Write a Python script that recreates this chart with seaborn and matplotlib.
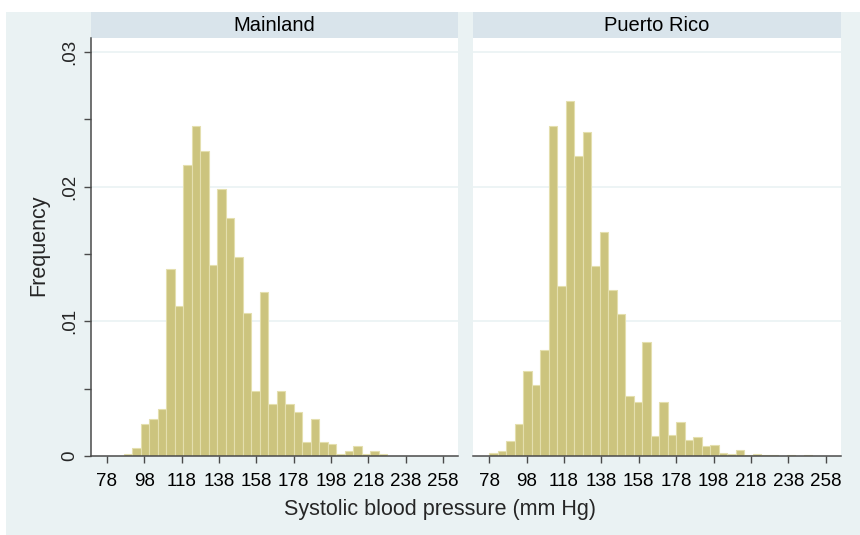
import numpy as np
import pandas as pd
import matplotlib
matplotlib.use("Agg")
import matplotlib.pyplot as plt
from matplotlib.patches import Rectangle
import seaborn as sns

# ---- data ----
panels = ["Mainland", "Puerto Rico"]
bin_start = 78.0
bin_width = 4.55
n_bins = 40
mainland_freq = [0, 0, 0.00017, 0.0006, 0.0024, 0.00274, 0.0035, 0.01385, 0.0111, 0.0216,
                 0.02447, 0.02264, 0.0142, 0.01978, 0.01768, 0.01479, 0.01064, 0.00484, 0.01217, 0.00385,
                 0.00484, 0.00385, 0.00323, 0.00106, 0.00272, 0.00106, 0.00089, 0.00015, 0.00035, 0.00074,
                 0.00015, 0.00035, 0.00015, 0, 0, 0, 0, 0, 0, 0]
puerto_rico_freq = [0.0002, 0.00037, 0.0011, 0.0024, 0.0063, 0.0053, 0.0079, 0.02446, 0.0126, 0.02636,
                    0.02228, 0.02401, 0.0141, 0.01666, 0.0123, 0.01052, 0.00448, 0.004, 0.00849, 0.00146,
                    0.00403, 0.00156, 0.00252, 0.00121, 0.00139, 0.00072, 0.00079, 0.0002, 0.00012, 0.00042,
                    0.00005, 0.00017, 0.00007, 0.00007, 0, 0.00005, 0, 0.0001, 0, 0]
x_ticks = [78, 98, 118, 138, 158, 178, 198, 218, 238, 258]
y_ticks = [0, 0.01, 0.02, 0.03]
y_tick_labels = ["0", ".01", ".02", ".03"]
x_title = "Systolic blood pressure (mm Hg)"
y_title = "Frequency"

bin_end = bin_start + bin_width * n_bins
centers = bin_start + bin_width * (np.arange(n_bins) + 0.5)
freqs = {"Mainland": mainland_freq, "Puerto Rico": puerto_rico_freq}

# ---- style ----
sns.set_style("white")
plt.rcParams["font.family"] = ["Liberation Sans", "DejaVu Sans"]

BG = "#EAF2F3"
STRIP = "#D9E4EB"
BAR = "#CCC47E"
BAR_EDGE = "#E4DFAE"
AXC = "#4a4a4a"

W, H = 860, 535
fig = plt.figure(figsize=(W / 100, H / 100), dpi=100, facecolor="white")
fig.patches.append(Rectangle((6 / W, 0), 1 - 6 / W, 1 - 12 / H, transform=fig.transFigure,
                             facecolor=BG, edgecolor="none", zorder=-10))

top_px, bot_px = 38.3, 456.0
strip_top_px = 12.3
panel_x = [(91.0, 458.0), (473.3, 840.7)]

for i, name in enumerate(panels):
    x0, x1 = panel_x[i]
    ax = fig.add_axes([x0 / W, (H - bot_px) / H, (x1 - x0) / W, (bot_px - top_px) / H])
    ax.set_facecolor("white")
    df = pd.DataFrame({"bp": centers, "freq": freqs[name]})
    sns.histplot(data=df, x="bp", weights="freq", bins=n_bins, binrange=(bin_start, bin_end),
                 ax=ax, color=BAR, edgecolor=BAR_EDGE, linewidth=0.8, alpha=1.0)
    ax.set_xlim(69.5, 266.0)
    ax.set_ylim(0, 0.031)
    ax.set_axisbelow(True)
    for yv in y_ticks[1:]:
        ax.axhline(yv, color=BG, lw=1.2, zorder=0)
    for s in ["top", "right"]:
        ax.spines[s].set_visible(False)
    ax.spines["bottom"].set_color(AXC)
    ax.spines["bottom"].set_linewidth(1.1)
    ax.set_xticks(x_ticks)
    ax.set_xticklabels([str(t) for t in x_ticks])
    ax.tick_params(axis="x", direction="out", length=5, width=1.0, color=AXC,
                   labelsize=13.5, pad=7, labelcolor="black", bottom=True)
    if i == 0:
        ax.spines["left"].set_color(AXC)
        ax.spines["left"].set_linewidth(1.1)
        ax.set_yticks(y_ticks)
        ax.set_yticklabels(y_tick_labels, rotation=90, va="center")
        ax.set_yticks([0.005, 0.015, 0.025], minor=True)
        ax.tick_params(axis="y", which="both", direction="out", length=5, width=1.0,
                       color=AXC, labelsize=13.5, pad=4, left=True)
    else:
        ax.spines["left"].set_visible(False)
        ax.set_yticks([])
    ax.set_xlabel("")
    ax.set_ylabel("")
    # strip title
    sh = (top_px - strip_top_px) / (bot_px - top_px)
    ax.add_patch(Rectangle((0, 1), 1, sh, transform=ax.transAxes, clip_on=False,
                           facecolor=STRIP, edgecolor="none"))
    ax.text(0.5, 1 + sh / 2, name, transform=ax.transAxes, ha="center", va="center",
            fontsize=14.5, color="black")

fig.text(440 / W, 1 - 509 / H, x_title, ha="center", va="center", fontsize=15.5)
fig.text(39 / W, 1 - 245 / H, y_title, ha="center", va="center", rotation=90, fontsize=15.5)

fig.savefig("out.png", dpi=100, facecolor="white")
